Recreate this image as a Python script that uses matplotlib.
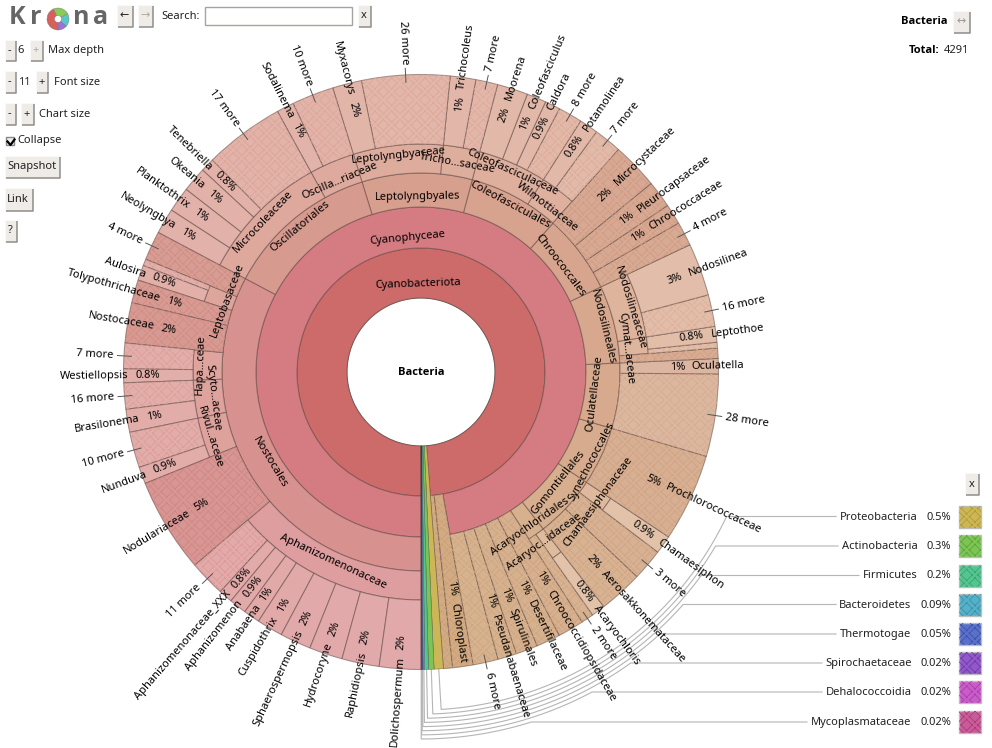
import colorsys
import numpy as np
import matplotlib
matplotlib.use("Agg")
import matplotlib.pyplot as plt
from matplotlib import font_manager as fm
from matplotlib import hatch as mhatch
from matplotlib.patches import Wedge, Rectangle
from matplotlib.path import Path

# ---------- data ----------
phyla_names = ["Proteobacteria", "Actinobacteria", "Firmicutes", "Bacteroidetes",
               "Thermotogae", "Spirochaetaceae", "Dehalococcoidia", "Mycoplasmataceae"]
phyla_share = [0.5, 0.3, 0.2, 0.09, 0.05, 0.02, 0.02, 0.02]
phyla_labels = ["0.5%", "0.3%", "0.2%", "0.09%", "0.05%", "0.02%", "0.02%", "0.02%"]

leaf_names = ["", "Chloroplast", "6 more", "Pseudanabaenaceae", "Spirulinales", "Desertifilaceae",
              "Chroococcidiopsidaceae", "2 more", "Acaryochloris", "Aerosakkonemataceae", "3 more",
              "Chamaesiphon", "Prochlorococcaceae", "28 more", "Oculatella", "", "", "Leptothoe",
              "16 more", "Nodosilinea", "4 more", "Chroococcaceae", "Pleurocapsaceae",
              "Microcystaceae", "7 more", "Potamolinea", "8 more", "Caldora", "Coleofasciculus",
              "Moorena", "7 more", "Trichocoleus", "26 more", "Myxacorys", "10 more", "Sodalinema",
              "17 more", "Tenebriella", "Okeania", "Planktothrix", "Neolyngbya", "4 more", "",
              "Aulosira", "Tolypothrichaceae", "Nostocaceae", "7 more", "Westiellopsis", "16 more",
              "Brasilonema", "10 more", "Nunduva", "Nodulariaceae", "11 more",
              "Aphanizomenonaceae_XXX", "Aphanizomenon", "Anabaena", "Cuspidothrix",
              "Sphaerospermopsis", "Hydrocoryne", "Raphidiopsis", "Dolichospermum"]
leaf_share = [0.50, 1.11, 1.36, 1.03, 1.19, 1.31, 1.42, 0.67, 0.75, 2.39, 1.72, 1.00, 4.78, 4.47,
              0.83, 0.56, 0.31, 0.86, 1.72, 2.86, 1.31, 1.11, 1.47, 2.53, 1.50, 1.03, 1.31, 0.83,
              1.06, 1.67, 1.19, 1.39, 4.78, 1.58, 2.28, 0.94, 4.36, 0.75, 1.36, 1.36, 1.39, 1.58,
              0.36, 0.83, 1.25, 2.19, 1.39, 0.75, 1.42, 1.25, 1.94, 0.92, 5.14, 1.97, 0.75, 0.94,
              0.89, 1.42, 1.69, 1.81, 2.03, 2.25]
leaf_labels = ["", "1%", "", "1%", "1%", "1%", "1%", "", "0.8%", "2%", "", "0.9%", "5%", "", "1%",
               "", "", "0.8%", "", "3%", "", "1%", "1%", "2%", "", "0.8%", "", "0.9%", "1%", "2%",
               "", "1%", "", "2%", "", "1%", "", "0.8%", "1%", "1%", "1%", "", "", "0.9%", "1%",
               "2%", "", "0.8%", "", "1%", "", "0.9%", "5%", "", "0.8%", "0.9%", "1%", "1%", "2%",
               "2%", "2%", "2%"]

order_names = ["Acaryochloridales", "Gomontiellales", "Synechococcales", "Oculatellaceae",
               "Nodosilineales", "Chroococcales", "Coleofasciculales", "Leptolyngbyales",
               "Oscillatoriales", "Nostocales"]
order_first_leaf = [7, 9, 12, 13, 15, 20, 24, 30, 34, 41]
order_leaf_count = [2, 3, 1, 2, 5, 4, 6, 4, 7, 21]

family_names = ["Acaryoc...idaceae", "Chamaesiphonaceae", "Cymat...aceae", "Nodosilineaceae",
                "Wilmottiaceae", "Coleofasciculaceae", "Tricho...saceae", "Leptolyngbyaceae",
                "Oscilla...riaceae", "Microcoleaceae", "Leptobasaceae", "Hapa...ceae",
                "Scyto...aceae", "Rivul...aceae", "Aphanizomenonaceae"]
family_first_leaf = [8, 11, 16, 18, 24, 26, 30, 32, 34, 36, 42, 46, 48, 50, 53]
family_leaf_count = [1, 1, 2, 2, 2, 4, 2, 2, 2, 5, 2, 2, 2, 2, 9]

# ---------- style / layout ----------
CX, CY = 421, 372
R_HOLE, R1, R2, R3, R4, R5 = 74, 124, 165, 199, 228, 297.5
FONT = ["Noto Sans", "DejaVu Sans"]
PX = 11.1
PT = PX * 72 / 100
plt.rcParams["font.family"] = FONT
plt.rcParams["hatch.linewidth"] = 0.55
EDGE = (0.33, 0.24, 0.22, 0.5)
OUTER_HATCHED_LEAVES = [0, 1, 3, 4, 5, 6, 9, 12, 15, 16, 21, 22, 23, 42, 44, 45, 52]
LIGHT_FAMILY_LEAVES = [13, 14]

phyla_colors = ["#cdb655", "#7cc555", "#55c590", "#55b0c8", "#5b70c8", "#9058c8", "#c85cc8", "#c85c98"]
key_y = [516.5, 546, 575.5, 604.5, 634, 663, 692, 722]
key_line_end = [836, 838, 859, 836, 836, 822, 822, 807]
order_label_pos = [(189.5, 35), (176, 51.2), (193, 62.5), (175, 83), (187.5, 103.9), (175, 127.3),
                   (189, 152), (175, 181), (189, 219.8), (176, 301)]
family_label_pos = [(210, 36), (219.6, 53.7), (206.4, 96.7), (218.6, 107), (208, 142.6), (220, 155.5),
                    (212, 170), (218, 186), (208, 203), (218, 226.5), (207, 249.6), (221, 268),
                    (209.6, 277), (220.8, 287), (209, 335)]


def bold_family():
    for name in ["Noto Sans", "Open Sans", "Lato", "Roboto", "Liberation Sans", "DejaVu Sans"]:
        for f in fm.fontManager.ttflist:
            if f.name == name and f.style == "normal" and f.weight in (700, "bold"):
                return name
    return "DejaVu Sans"


BOLD = bold_family()


class BasketHatch(mhatch.HatchPatternBase):
    """Woven pattern used by Krona for collapsed slices."""
    def __init__(self, hatch, density):
        self.cells = 12 if "x" in hatch else 0
        self.num_vertices = self.cells ** 2 * 2 * 2

    def set_vertices_and_codes(self, vertices, codes):
        n = self.cells
        k = 0
        for i in range(n):
            for j in range(n):
                cx_, cy_ = (i + .5) / n, (j + .5) / n
                sign = 1 if (i + j) % 2 == 0 else -1
                ln = .40 / n
                off = .17 / n
                for o in (-off, off):
                    ox, oy = o, -sign * o
                    vertices[k] = (cx_ - ln + ox, cy_ - sign * ln + oy)
                    vertices[k + 1] = (cx_ + ln + ox, cy_ + sign * ln + oy)
                    codes[k], codes[k + 1] = Path.MOVETO, Path.LINETO
                    k += 2


mhatch._hatch_types[:] = [BasketHatch]


def polar(r, a):
    t = np.radians(a)
    return CX + r * np.sin(t), CY + r * np.cos(t)


def hue_at(a):
    return (30 - (a - 10) * 33 / 350) % 360


def hsl(h, l, s):
    return colorsys.hls_to_rgb(h / 360, l, s)


def ring(ax, a0, a1, r0, r1, color, z=2, hatched=False, hatch_dark=.045, h=None, l=None, s=None):
    ax.add_patch(Wedge((CX, CY), r1, 90 - a1, 90 - a0, width=r1 - r0, facecolor=color,
                       edgecolor=EDGE, linewidth=.75, zorder=z))
    if hatched:
        ax.add_patch(Wedge((CX, CY), r1, 90 - a1, 90 - a0, width=r1 - r0, facecolor="none",
                           edgecolor=hsl(h, l - hatch_dark, s), linewidth=0, hatch="x", zorder=z + .1))


def radial_text(ax, r, a, s, z=8, **kw):
    x, y = polar(r, a)
    dx, dy = np.sin(np.radians(a)), -np.cos(np.radians(a))
    rot = np.degrees(np.arctan2(dy, dx))
    left = a > 180
    if left:
        rot += 180
    ax.text(x, y, s, rotation=rot, rotation_mode="anchor", va="center",
            ha=kw.pop("ha", "right" if left else "left"), fontsize=PT, color="black", zorder=z, **kw)


def tangent_text(ax, r, a, s, z=8):
    x, y = polar(r, a)
    rot = a - 180 if 90 < a < 270 else (a if a <= 90 else a - 360)
    ax.text(x, y, s, rotation=rot, rotation_mode="anchor", ha="center", va="center",
            fontsize=PT, color="black", zorder=z)


def button(ax, x0, y0, x1, y1, s="", color="#222222", fs=PT):
    ax.add_patch(Rectangle((x0, y0), x1 - x0, y1 - y0, fc="#efebe7", ec="none", zorder=10))
    ax.plot([x0, x1, x1], [y1, y1, y0], color="#8f8d8a", lw=1.1, zorder=10.1, solid_capstyle="butt")
    ax.plot([x0, x0, x1], [y1, y0, y0], color="#fbfafa", lw=.7, zorder=10.1)
    if s:
        ax.text((x0 + x1) / 2 - .5, (y0 + y1) / 2, s, ha="center", va="center", color=color,
                fontsize=fs, zorder=11)


# ---------- figure ----------
fig = plt.figure(figsize=(9.92, 7.48), dpi=100, facecolor="white")
ax = fig.add_axes([0, 0, 1, 1])
ax.set_xlim(0, 992)
ax.set_ylim(748, 0)
ax.axis("off")

# scale shares to degrees
total = sum(phyla_share) + sum(leaf_share)
k = 360 / total
phyla_rev = list(range(len(phyla_names)))[::-1]   # Mycoplasmataceae sits first at 6 o'clock
bounds = {}
acc = 0.
for i in phyla_rev:
    bounds[i] = (acc, acc + phyla_share[i] * k)
    acc += phyla_share[i] * k
start = acc
edges = start + np.concatenate([[0], np.cumsum(leaf_share)]) * k

leaf_in_family = {j for f, c in zip(family_first_leaf, family_leaf_count) for j in range(f, f + c)}
leaf_in_order = {j for f, c in zip(order_first_leaf, order_leaf_count) for j in range(f, f + c)}

# connector lines of the side key
for n, i in enumerate(range(len(phyla_names))):
    a0, a1 = bounds[i]
    mid = (a0 + a1) / 2
    r_arc = 338 + n * 4.14
    a_end = np.degrees(np.arccos((key_y[i] - CY) / r_arc))
    arc_a = np.linspace(mid, a_end, 80)
    xs, ys = polar(r_arc, arc_a)
    x0, y0 = polar(R5, mid)
    ax.plot(np.r_[x0, xs, key_line_end[i]], np.r_[y0, ys, key_y[i]], color="#b5b5b5", lw=.8, zorder=1)

# inner rings
ring(ax, start, 360, R_HOLE, R1, "#cd6b6b", z=2)
ring(ax, edges[2], 360, R1, R2, "#d47c82", z=2)
ax.add_patch(plt.Circle((CX, CY), R_HOLE, fc="white", ec="#777777", lw=.7, zorder=1.5))

# order ring
for name, f, c, (lr, la) in zip(order_names, order_first_leaf, order_leaf_count, order_label_pos):
    a0, a1 = edges[f], edges[f + c]
    ring(ax, a0, a1, R2, R3, hsl(hue_at((a0 + a1) / 2), .70, .48), z=3)
    tangent_text(ax, lr, la, name)

# family ring
for name, f, c, (lr, la) in zip(family_names, family_first_leaf, family_leaf_count, family_label_pos):
    a0, a1 = edges[f], edges[f + c]
    ring(ax, a0, a1, R3, R4, hsl(hue_at((a0 + a1) / 2), .745, .50), z=4)
    tangent_text(ax, lr, la, name)

# outer slices and their labels
for j, (name, lab) in enumerate(zip(leaf_names, leaf_labels)):
    a0, a1 = edges[j], edges[j + 1]
    mid = (a0 + a1) / 2
    if j in leaf_in_family:
        r0, l_ = R4, .775
    elif j in leaf_in_order:
        r0, l_ = R3, .71
    elif j < 2:
        r0, l_ = R1, .67
    else:
        r0, l_ = R2, .70
    if j in LIGHT_FAMILY_LEAVES:
        l_ = .745
    h = hue_at(mid)
    s_ = .50 if r0 == R4 else .46
    more = name.endswith("more")
    hatched = more or j in OUTER_HATCHED_LEAVES
    ring(ax, a0, a1, r0, R5, hsl(h, l_, s_), z=5, hatched=hatched, h=h, l=l_, s=s_)
    if more:
        x0, y0 = polar(290, mid)
        x1, y1 = polar(304, mid)
        ax.plot([x0, x1], [y0, y1], color="#555555", lw=.7, zorder=7)
        radial_text(ax, 308, mid, name)
    elif name:
        r_pct = (r0 + R5) / 2 + 8 + (2 if "." in lab else 0)
        radial_text(ax, r_pct, mid, lab, ha="center")
        w = 23 if "." in lab else 13
        radial_text(ax, r_pct + w / 2 + 8, mid, name)

# other phyla slices
for i in range(len(phyla_names)):
    a0, a1 = bounds[i]
    ax.add_patch(Wedge((CX, CY), R5, 90 - a1, 90 - a0, width=R5 - R_HOLE, facecolor=phyla_colors[i],
                       edgecolor=(.2, .2, .2, .55), linewidth=.4, zorder=6))

tangent_text(ax, 88, 182, "Cyanobacteriota")
tangent_text(ax, 134.6, 185.5, "Cyanophyceae")
ax.text(CX, CY, "Bacteria", ha="center", va="center", family=BOLD, weight="bold", fontsize=PT, zorder=9)

# side key
for i, name in enumerate(phyla_names):
    y = key_y[i]
    h_, l_, s_ = colorsys.rgb_to_hls(*matplotlib.colors.to_rgb(phyla_colors[i]))
    ax.add_patch(Rectangle((958.5, y - 11), 22, 22, fc=phyla_colors[i], ec="#bdbdbd", lw=1, zorder=9))
    ax.add_patch(Rectangle((958.5, y - 11), 22, 22, fc="none",
                           ec=colorsys.hls_to_rgb(h_, l_ - .12, s_), lw=0, hatch="x", zorder=9.1))
    ax.text(951, y + .5, phyla_labels[i], ha="right", va="center", fontsize=PT, color="#222222", zorder=9)
    lab_right = 917.5 if len(phyla_labels[i]) == 4 else 911.5
    ax.text(lab_right, y + .5, name, ha="right", va="center", fontsize=PT, color="#222222", zorder=9)

button(ax, 965, 473, 979, 495, "x")

# top right
ax.text(947, 21, "Bacteria", ha="right", va="center", family=BOLD, weight="bold", fontsize=PT, zorder=9)
button(ax, 953, 11, 970, 33, "↔", color="#999999")
ax.text(939, 50, "Total:", ha="right", va="center", family=BOLD, weight="bold", fontsize=PT, zorder=9)
ax.text(969, 50, "4291", ha="right", va="center", fontsize=PT, color="#222222", zorder=9)

# logo
for s_, x_ in zip("Krna", (17, 36, 81, 101)):
    ax.text(x_, 17.5, s_, ha="center", va="center", fontsize=18, family=BOLD, weight="bold",
            color="#666666", zorder=9)
logo_a = [0, 50, 120, 205, 360]
logo_c = ["#a070d8", "#55c8c8", "#88cc55", "#d8605c"]
for a0, a1, c in zip(logo_a[:-1], logo_a[1:], logo_c):
    ax.add_patch(Wedge((58, 19), 11, 90 - a1, 90 - a0, width=7.5, fc=c, ec="#777777", lw=.3, zorder=9))

# top and left controls
button(ax, 116.5, 4.5, 132.5, 27, "←")
button(ax, 138, 4.5, 153, 27, "→", color="#aaaaaa")
ax.text(161, 16, "Search:", ha="left", va="center", fontsize=PT, color="#222222", zorder=9)
ax.add_patch(Rectangle((204.5, 6.5), 147, 18, fc="white", ec="#a5a5a0", lw=1, zorder=9))
button(ax, 357.5, 4.5, 370.5, 27, "x")

button(ax, 4.5, 40, 15.5, 61, "-")
ax.text(21, 50, "6", ha="center", va="center", fontsize=PT, color="#222222", zorder=9)
button(ax, 29.5, 40, 42.5, 61, "+", color="#aaaaaa")
ax.text(48, 50, "Max depth", va="center", fontsize=PT, color="#222222", zorder=9)

button(ax, 4.5, 71, 15.5, 93, "-")
ax.text(24, 82, "11", ha="center", va="center", fontsize=PT, color="#222222", zorder=9)
button(ax, 35.5, 71, 48, 93, "+")
ax.text(54, 82, "Font size", va="center", fontsize=PT, color="#222222", zorder=9)

button(ax, 4.5, 103, 15.5, 125, "-")
button(ax, 20.5, 103, 33.5, 125, "+")
ax.text(39, 114, "Chart size", va="center", fontsize=PT, color="#222222", zorder=9)

ax.add_patch(Rectangle((5.5, 137), 8, 8, fc="#eeeeee", ec="#888888", lw=1, zorder=9))
ax.plot([7.5, 10.5, 14.5], [141.5, 145, 139.5], color="black", lw=1.6, zorder=10)
ax.text(17, 140, "Collapse", va="center", fontsize=PT, color="#222222", zorder=9)

button(ax, 4.5, 155.5, 59.5, 178, "Snapshot")
button(ax, 4.5, 188, 32.5, 210.5, "Link")
button(ax, 4.5, 219.5, 16.5, 242, "?")

fig.savefig("out.png", dpi=100, facecolor="white")
